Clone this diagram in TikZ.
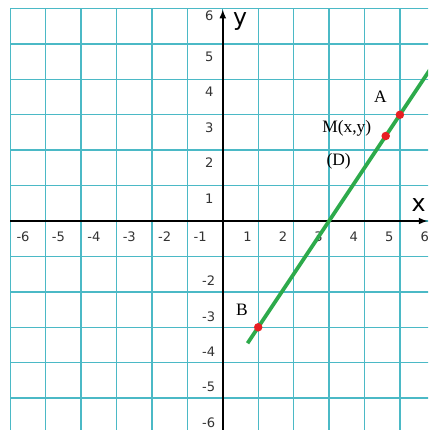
\documentclass[tikz,border=0pt]{standalone}
\usepackage{fontspec}
\setmainfont{Liberation Serif}
\newfontfamily\ticksf{DejaVu Sans}
\usepackage{tikz}
\usetikzlibrary{calc}
\usetikzlibrary{arrows}
\definecolor{gridteal}{RGB}{75,185,198}
\definecolor{lineD}{RGB}{45,170,75}
\definecolor{ptred}{RGB}{232,30,35}
\begin{document}
\begin{tikzpicture}[transform shape,scale=1,
	ticklab/.style={font=\ticksf\fontsize{10.5}{10.5}\selectfont,text=black!80},
	axlab/.style={font=\ticksf\fontsize{19}{19}\selectfont},
	ptlab/.style={font=\fontsize{14}{14}\selectfont}]
	\useasboundingbox (-6.29,-5.90) rectangle (5.80,6.24);
	\clip (-6.29,-5.90) rectangle (5.80,6.24);
	\fill[white] (-6.29,-5.90) rectangle (5.80,6.24);
	\draw[gridteal,line width=1.1pt] (-6,-7) grid (7,6);
	\draw [-latex,line width=1.4pt](-6,0) -- (5.78,0) coordinate(x axis);
	\draw [-latex,line width=1.4pt](0,-6) -- (0,5.97) coordinate(y axis);
	\node[axlab] (xlab) at (5.53,0.45) {x};
	\node[axlab] (ylab) at (0.49,5.63) {y};
	% graduations
	\foreach \i in {-6,...,-1} \node[ticklab] (xn\i) at (\i+0.36,-0.44) {\i};
	\foreach \i in {1,...,6} \node[ticklab] (xp\i) at (\i-0.3,-0.44) {\i};
	\foreach \i in {1,...,5} \node[ticklab] (yp\i) at (-0.38,\i-0.36) {\i};
	\node[ticklab] (yp6) at (-0.38,5.79) {6};
	\foreach \i in {-6,...,-2} \node[ticklab] (yn\i) at (-0.4,\i+0.31) {\i};
	% droite (D)
	\coordinate (B) at (1,-3);
	\coordinate (A) at (5,3);
	\coordinate (M) at (4.6,2.4);
	\coordinate (Dlo) at (0.7,-3.45);
	\coordinate (Dhi) at (6.2,4.8);
	\draw[lineD,line width=3pt] (Dlo) -- (Dhi);
	\foreach \p in {A,B,M} \fill[ptred] (\p) circle (0.12);
	\node[ptlab] (Alab) at (4.45,3.5) {A};
	\node[ptlab] (Mlab) at (3.5,2.62) {M(x,y)};
	\node[ptlab] (Dlab) at (3.27,1.69) {(D)};
	\node[ptlab] (Blab) at (0.54,-2.51) {B};
\end{tikzpicture}
\end{document}
